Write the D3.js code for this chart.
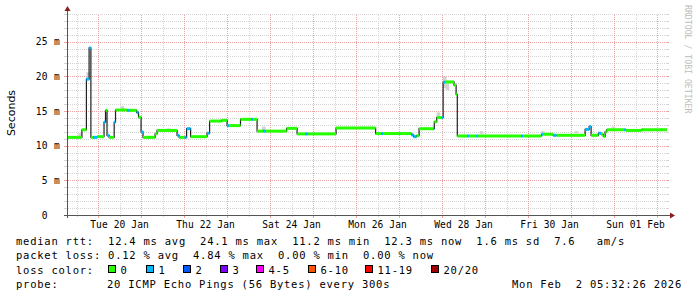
<!DOCTYPE html>
<html><head><meta charset="utf-8">
<script src="https://cdn.jsdelivr.net/npm/d3@7"></script>
<style>body{margin:0;background:#fff}svg{display:block}</style>
</head><body><svg id="c" width="697" height="297"></svg>
<script>
// ---- data ----
const startTime = "2026-01-19 06:40";
const endTime = "2026-02-02 05:32";
const times = [
 "2026-01-19 06:40","2026-01-19 15:00","2026-01-19 17:30","2026-01-19 19:00","2026-01-19 20:00","2026-01-19 21:15","2026-01-19 23:30",
 "2026-01-20 03:20","2026-01-20 04:10","2026-01-20 05:00","2026-01-20 06:10","2026-01-20 09:00","2026-01-20 09:45","2026-01-20 16:10",
 "2026-01-20 17:50","2026-01-20 21:30","2026-01-20 22:35","2026-01-21 00:00","2026-01-21 01:05","2026-01-21 07:50","2026-01-21 08:55",
 "2026-01-21 20:05","2026-01-21 21:15","2026-01-22 00:15","2026-01-22 01:25","2026-01-22 03:40","2026-01-22 12:50","2026-01-22 14:15",
 "2026-01-22 20:55","2026-01-23 00:00","2026-01-23 01:05","2026-01-23 07:30","2026-01-23 13:25","2026-01-23 14:30","2026-01-23 16:45",
 "2026-01-23 20:20","2026-01-23 21:45","2026-01-24 09:15","2026-01-24 15:05","2026-01-24 19:30","2026-01-24 21:15","2026-01-25 12:50",
 "2026-01-26 10:55","2026-01-26 14:00","2026-01-26 15:05","2026-01-27 07:00","2026-01-27 08:05","2026-01-27 09:45","2026-01-27 11:10",
 "2026-01-27 19:00","2026-01-27 19:40","2026-01-27 21:00","2026-01-27 23:45","2026-01-28 00:35","2026-01-28 01:40","2026-01-28 06:40",
 "2026-01-28 07:50","2026-01-28 08:30","2026-01-28 13:55","2026-01-28 15:05","2026-01-28 19:00","2026-01-28 20:05","2026-01-29 20:05",
 "2026-01-29 21:15","2026-01-30 07:30","2026-01-30 08:20","2026-01-30 13:55","2026-01-30 15:55","2026-01-31 07:50","2026-01-31 10:05",
 "2026-01-31 11:10","2026-01-31 15:15","2026-01-31 16:45","2026-01-31 18:00","2026-01-31 19:00","2026-01-31 19:55","2026-02-01 05:35",
 "2026-02-01 06:40","2026-02-01 15:20"
];
const medians = [
 11.2,12.3,19.6,24.1,11.2,11.2,11.3,
 13.4,15.1,11.5,11.2,13.4,15.15,15.1,
 15.1,14.8,14.1,12.0,11.2,11.7,12.2,
 11.5,11.2,11.2,12.45,11.3,11.8,13.55,
 13.65,12.9,12.9,13.8,13.8,13.8,12.1,
 12.1,12.1,12.5,11.7,11.7,11.7,12.55,
 11.75,11.75,11.75,11.55,11.3,11.45,12.45,
 12.45,13.45,14.05,14.05,19.15,19.2,18.75,
 17.4,11.4,11.4,11.4,11.4,11.4,11.4,
 11.4,11.65,11.65,11.5,11.5,12.35,12.75,
 11.5,11.8,11.65,11.35,12.0,12.3,12.3,
 12.2,12.3
];
const losses = [
 0,0,1,1,0,1,0,
 1,0,1,0,1,0,1,
 0,1,0,1,0,0,0,
 1,0,1,1,0,1,0,
 0,1,0,0,1,0,0,
 1,0,0,0,1,0,0,
 0,1,0,1,1,0,0,
 1,0,0,1,1,0,0,
 0,0,1,0,1,0,1,
 0,1,0,1,0,1,1,
 0,1,0,0,0,0,1,
 0,0
];
const smokeTimes = ["2026-01-19 13:00","2026-01-19 17:30","2026-01-20 12:40","2026-01-21 14:30","2026-01-23 19:30","2026-01-27 21:00","2026-01-28 00:30","2026-01-28 02:00","2026-01-28 21:00","2026-01-30 07:20","2026-01-31 02:00","2026-01-31 22:40","2026-02-01 15:20"];
const smokeLo    = [11.2, 19.7, 15.2, 12.25, 12.0, 14.0, 18.3, 18.0, 11.7, 11.8, 11.8, 12.5, 12.3];
const smokeHi    = [11.8, 20.6, 15.7, 12.5, 12.75, 14.8, 20.0, 19.0, 12.1, 12.1, 12.1, 12.75, 12.55];
const yTicks = [0, 5, 10, 15, 20, 25];
const yTickLabels = ["0  ", "5 m", "10 m", "15 m", "20 m", "25 m"];
const xLabels = ["Tue 20 Jan","Thu 22 Jan","Sat 24 Jan","Mon 26 Jan","Wed 28 Jan","Fri 30 Jan","Sun 01 Feb"];
const xLabelTimes = ["2026-01-20 12:00","2026-01-22 12:00","2026-01-24 12:00","2026-01-26 12:00","2026-01-28 12:00","2026-01-30 12:00","2026-02-01 12:00"];
const lossNames = ["0","1","2","3","4-5","6-10","11-19","20/20"];
const lossColors = ["#26ff00","#00b8ff","#0059ff","#7e00ff","#ff00ff","#ff5500","#ff0000","#a00000"];
const legendRtt = "median rtt:  12.4 ms avg  24.1 ms max  11.2 ms min  12.3 ms now  1.6 ms sd  7.6   am/s";
const legendLoss = "packet loss: 0.12 % avg  4.84 % max  0.00 % min  0.00 % now";
const probeText = "20 ICMP Echo Pings (56 Bytes) every 300s";
const stampText = "Mon Feb  2 05:32:26 2026";

// ---- drawing ----
const parse = d3.timeParse("%Y-%m-%d %H:%M");
const svg = d3.select("#c");
const X0 = 67, X1 = 667, Y0 = 215, Y1 = 14;
const x = d3.scaleTime().domain([parse(startTime), parse(endTime)]).range([X0, X1]);
const y = d3.scaleLinear().domain([0, 29]).range([Y0, Y1]);
const mono = "DejaVu Sans Mono";
const gridCol = "#d4d4d4", mgridCol = "#eba3a3";

svg.append("rect").attr("width",697).attr("height",297).attr("fill","#fff");

const g = svg.append("g").attr("shape-rendering", "crispEdges");
function dline(x1, y1, x2, y2, c, dotted) {
  const l = g.append("line").attr("x1", x1).attr("x2", x2).attr("y1", y1).attr("y2", y2).attr("stroke", c);
  if (dotted) l.attr("stroke-dasharray", "1,1");
  return l;
}
// horizontal grid
d3.range(1, 30).forEach(v => {
  const yy = Math.round(y(v)) + 0.5;
  const c = v % 5 === 0 ? mgridCol : gridCol;
  dline(X0 + 1, yy, X1, yy, c, true);
  dline(X0 - 3, yy, X0, yy, c, false);
  dline(X1, yy, X1 + 2, yy, c, false);
});
// vertical grid
const days = d3.timeDay.range(x.domain()[0], x.domain()[1]);
const noons = d3.timeHour.range(x.domain()[0], x.domain()[1]).filter(d => d.getHours() === 12);
noons.forEach(d => {
  const xx = Math.round(x(d)) + 0.5;
  dline(xx, Y0 - 1, xx, Y1, gridCol, true);
  dline(xx, Y0, xx, Y0 + 2, gridCol, false);
});
days.forEach(d => {
  const xx = Math.round(x(d)) + 0.5;
  dline(xx, Y0 - 1, xx, Y1, mgridCol, true);
  dline(xx, Y0, xx, Y0 + 3, mgridCol, false);
});

// smoke
const smokeW = x(parse("2026-01-20 02:00")) - x(parse("2026-01-20 00:00"));
smokeTimes.forEach((t, i) => {
  svg.append("rect").attr("x", x(parse(t))).attr("width", smokeW)
    .attr("y", y(smokeHi[i])).attr("height", y(smokeLo[i]) - y(smokeHi[i]))
    .attr("fill", "#d2d2d2");
});

// median line (black, step)
const pts = times.map((t, i) => [parse(t), medians[i]]);
pts.push([parse(endTime), medians[medians.length - 1]]);
const line = d3.line().x(d => x(d[0])).y(d => y(d[1])).curve(d3.curveStepAfter);
svg.append("path").attr("d", line(pts)).attr("fill", "none").attr("stroke", "#202020").attr("stroke-width", 1.2);

// loss colored bands
function bucket(l) { if (l <= 3) return l; if (l <= 5) return 4; if (l <= 10) return 5; if (l <= 19) return 6; return 7; }
times.forEach((t, i) => {
  const t0 = parse(t), t1 = i + 1 < times.length ? parse(times[i+1]) : parse(endTime);
  svg.append("rect").attr("x", x(t0)).attr("width", Math.max(1, x(t1) - x(t0)))
    .attr("y", y(medians[i]) - 1.5).attr("height", 3)
    .attr("fill", lossColors[bucket(losses[i])]);
});

// axes
const axCol = "#555";
svg.append("line").attr("x1", X0-3).attr("x2", X1+4).attr("y1", Y0+0.5).attr("y2", Y0+0.5).attr("stroke", axCol);
svg.append("line").attr("x1", X0+0.5).attr("x2", X0+0.5).attr("y1", Y0+3).attr("y2", Y1-4).attr("stroke", axCol);
svg.append("path").attr("d", `M${X1+3},${Y0-2.5} L${X1+8},${Y0+0.5} L${X1+3},${Y0+3.5} Z`).attr("fill", "#8b1c1c");
svg.append("path").attr("d", `M${X0-2.5},${Y1-3} L${X0+0.5},${Y1-8} L${X0+3.5},${Y1-3} Z`).attr("fill", "#8b1c1c");

// y tick labels
yTicks.forEach((v, i) => {
  svg.append("text").attr("x", 60).attr("y", y(v) + 3.5).attr("text-anchor", "end")
    .attr("font-family", mono).attr("font-size", "9.6px").attr("letter-spacing", "0.3px")
    .attr("fill", "#000").style("white-space", "pre").text(yTickLabels[i]);
});
// x labels
xLabels.forEach((s, i) => {
  svg.append("text").attr("x", x(parse(xLabelTimes[i]))).attr("y", 227.5).attr("text-anchor", "middle")
    .attr("font-family", mono).attr("font-size", "9.6px").attr("letter-spacing", "0.1px")
    .attr("fill", "#000").style("white-space", "pre").text(s);
});
// y title
svg.append("text").attr("transform", "translate(14.5,113) rotate(-90)").attr("text-anchor", "middle")
  .attr("font-family", "DejaVu Sans").attr("font-size", "11px").attr("fill", "#000").text("Seconds");
// watermark
svg.append("text").attr("transform", "translate(685,5) rotate(90)").attr("text-anchor", "start")
  .attr("font-family", mono).attr("font-size", "8.2px").attr("fill", "#bdbdbd").style("white-space","pre")
  .text("RRDTOOL / TOBI OETIKER");

// legend
const lg = { "font-family": mono, "font-size": "10.5px", "letter-spacing": "0.76px", "fill": "#000" };
function lt(xx, yy, s) {
  const t = svg.append("text").attr("x", xx).attr("y", yy).style("white-space", "pre").text(s);
  Object.entries(lg).forEach(([k, v]) => t.attr(k, v));
  return t;
}
lt(16, 244.5, legendRtt);
lt(16, 259, legendLoss);
lt(16, 273.5, "loss color:");
const boxX = [108, 145.5, 182.5, 219.5, 256, 307.5, 365, 430.5];
lossNames.forEach((n, i) => {
  svg.append("rect").attr("x", Math.round(boxX[i]) + 0.5).attr("y", 265.5).attr("width", 7).attr("height", 7)
    .attr("fill", lossColors[i]).attr("stroke", "#000").attr("stroke-width", 1);
  lt(Math.round(boxX[i]) + 12.5, 273.5, n);
});
lt(16, 288, "probe:");
lt(107, 288, probeText);
lt(512, 288, stampText);
</script></body></html>
